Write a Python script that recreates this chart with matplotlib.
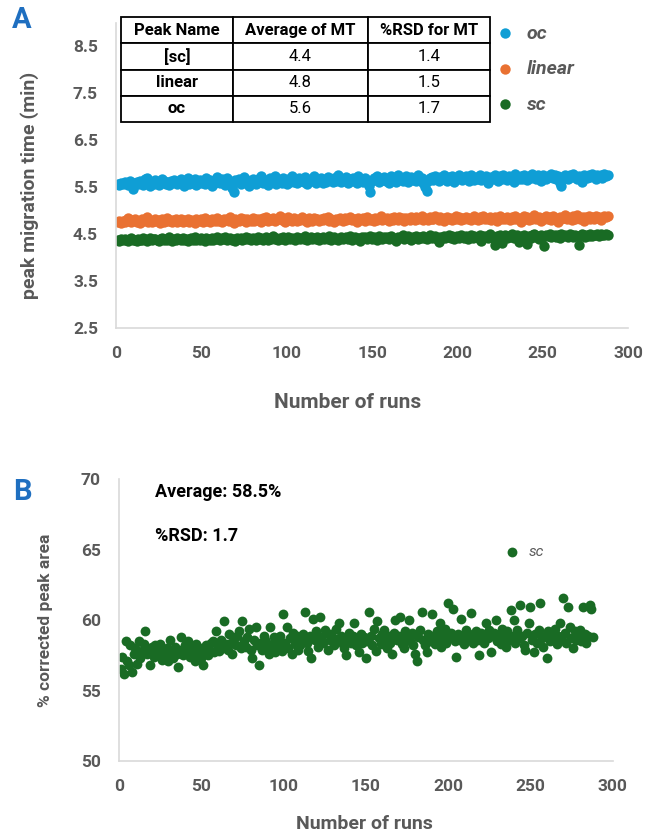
import numpy as np
import matplotlib.pyplot as plt

plt.rcParams['font.family'] = ['Roboto', 'DejaVu Sans']

oc_mt = [
    5.57, 5.55, 5.59, 5.56, 5.60, 5.58, 5.54, 5.62, 5.57, 5.46, 5.58, 5.61,
    5.56, 5.63, 5.59, 5.55, 5.66, 5.70, 5.58, 5.52, 5.60, 5.57, 5.64, 5.61,
    5.55, 5.59, 5.68, 5.62, 5.57, 5.60, 5.54, 5.63, 5.58, 5.65, 5.61, 5.56,
    5.59, 5.66, 5.62, 5.52, 5.60, 5.70, 5.57, 5.63, 5.59, 5.67, 5.55, 5.61,
    5.64, 5.58, 5.62, 5.56, 5.69, 5.60, 5.65, 5.53, 5.61, 5.58, 5.72, 5.63,
    5.59, 5.66, 5.61, 5.55, 5.70, 5.62, 5.58, 5.48, 5.40, 5.64, 5.60, 5.67,
    5.56, 5.62, 5.71, 5.59, 5.65, 5.52, 5.63, 5.68, 5.60, 5.57, 5.66, 5.62,
    5.73, 5.58, 5.64, 5.61, 5.55, 5.69, 5.63, 5.60, 5.74, 5.57, 5.66, 5.62,
    5.59, 5.70, 5.64, 5.56, 5.67, 5.61, 5.73, 5.60, 5.65, 5.58, 5.69, 5.63,
    5.66, 5.60, 5.71, 5.57, 5.64, 5.68, 5.62, 5.74, 5.59, 5.66, 5.63, 5.70,
    5.58, 5.65, 5.61, 5.72, 5.64, 5.67, 5.60, 5.69, 5.63, 5.75, 5.66, 5.61,
    5.68, 5.64, 5.71, 5.59, 5.66, 5.62, 5.70, 5.65, 5.58, 5.73, 5.63, 5.67,
    5.61, 5.69, 5.64, 5.52, 5.39, 5.62, 5.70, 5.66, 5.74, 5.60, 5.68, 5.64,
    5.71, 5.62, 5.67, 5.59, 5.73, 5.65, 5.69, 5.61, 5.75, 5.66, 5.70, 5.63,
    5.68, 5.74, 5.60, 5.66, 5.71, 5.64, 5.69, 5.62, 5.76, 5.67, 5.70, 5.58,
    5.51, 5.42, 5.63, 5.69, 5.72, 5.65, 5.74, 5.68, 5.62, 5.71, 5.66, 5.75,
    5.69, 5.63, 5.72, 5.67, 5.74, 5.60, 5.70, 5.66, 5.76, 5.71, 5.64, 5.69,
    5.73, 5.67, 5.62, 5.75, 5.70, 5.65, 5.72, 5.68, 5.76, 5.64, 5.71, 5.69,
    5.74, 5.58, 5.67, 5.72, 5.66, 5.75, 5.70, 5.63, 5.73, 5.68, 5.76, 5.71,
    5.65, 5.74, 5.69, 5.72, 5.60, 5.77, 5.70, 5.66, 5.73, 5.68, 5.75, 5.71,
    5.64, 5.74, 5.69, 5.77, 5.72, 5.67, 5.75, 5.70, 5.62, 5.76, 5.71, 5.68,
    5.74, 5.72, 5.77, 5.69, 5.75, 5.66, 5.73, 5.58, 5.52, 5.70, 5.76, 5.72,
    5.68, 5.75, 5.71, 5.77, 5.73, 5.66, 5.74, 5.70, 5.60, 5.76, 5.72, 5.69,
    5.75, 5.71, 5.77, 5.73, 5.68, 5.76, 5.72, 5.75, 5.70, 5.77, 5.74, 5.75,
]

linear_mt = [
    4.75, 4.77, 4.74, 4.78, 4.76, 4.80, 4.85, 4.77, 4.75, 4.79, 4.82, 4.76,
    4.78, 4.74, 4.81, 4.77, 4.79, 4.86, 4.76, 4.80, 4.75, 4.78, 4.83, 4.77,
    4.79, 4.74, 4.81, 4.76, 4.78, 4.84, 4.77, 4.80, 4.75, 4.79, 4.82, 4.76,
    4.78, 4.81, 4.75, 4.79, 4.77, 4.83, 4.76, 4.80, 4.78, 4.74, 4.82, 4.79,
    4.77, 4.81, 4.76, 4.84, 4.78, 4.80, 4.75, 4.82, 4.79, 4.77, 4.85, 4.78,
    4.80, 4.76, 4.83, 4.79, 4.81, 4.77, 4.86, 4.78, 4.74, 4.82, 4.80, 4.77,
    4.84, 4.79, 4.81, 4.76, 4.83, 4.80, 4.78, 4.85, 4.77, 4.82, 4.79, 4.81,
    4.76, 4.84, 4.80, 4.87, 4.78, 4.82, 4.79, 4.85, 4.77, 4.83, 4.81, 4.88,
    4.79, 4.84, 4.76, 4.82, 4.86, 4.80, 4.78, 4.85, 4.81, 4.77, 4.83, 4.80,
    4.86, 4.79, 4.82, 4.76, 4.84, 4.80, 4.78, 4.85, 4.81, 4.83, 4.77, 4.82,
    4.79, 4.84, 4.81, 4.86, 4.78, 4.82, 4.80, 4.75, 4.83, 4.79, 4.85, 4.81,
    4.77, 4.84, 4.80, 4.82, 4.87, 4.79, 4.83, 4.81, 4.76, 4.85, 4.80, 4.82,
    4.84, 4.78, 4.86, 4.81, 4.79, 4.83, 4.77, 4.85, 4.80, 4.82, 4.88, 4.79,
    4.83, 4.81, 4.85, 4.78, 4.84, 4.80, 4.86, 4.82, 4.79, 4.87, 4.81, 4.84,
    4.78, 4.85, 4.82, 4.80, 4.87, 4.83, 4.79, 4.86, 4.81, 4.84, 4.88, 4.80,
    4.85, 4.82, 4.79, 4.87, 4.83, 4.81, 4.89, 4.84, 4.80, 4.86, 4.82, 4.78,
    4.84, 4.87, 4.81, 4.85, 4.79, 4.83, 4.88, 4.82, 4.86, 4.80, 4.84, 4.81,
    4.87, 4.83, 4.85, 4.79, 4.84, 4.88, 4.82, 4.80, 4.86, 4.83, 4.89, 4.81,
    4.85, 4.82, 4.87, 4.80, 4.84, 4.86, 4.78, 4.83, 4.88, 4.81, 4.85, 4.82,
    4.87, 4.84, 4.80, 4.86, 4.83, 4.89, 4.81, 4.85, 4.76, 4.84, 4.88, 4.82,
    4.86, 4.79, 4.85, 4.83, 4.90, 4.81, 4.84, 4.87, 4.78, 4.85, 4.82, 4.88,
    4.83, 4.86, 4.80, 4.89, 4.84, 4.82, 4.75, 4.87, 4.83, 4.85, 4.90, 4.81,
    4.86, 4.84, 4.79, 4.88, 4.83, 4.91, 4.85, 4.82, 4.87, 4.78, 4.86, 4.84,
    4.89, 4.83, 4.86, 4.81, 4.88, 4.84, 4.87, 4.80, 4.85, 4.89, 4.86, 4.88,
]

sc_mt = [
    4.38, 4.36, 4.39, 4.37, 4.40, 4.38, 4.35, 4.39, 4.41, 4.37, 4.38, 4.36,
    4.40, 4.38, 4.37, 4.41, 4.39, 4.36, 4.38, 4.42, 4.37, 4.39, 4.40, 4.38,
    4.36, 4.39, 4.41, 4.37, 4.40, 4.38, 4.43, 4.39, 4.36, 4.40, 4.38, 4.41,
    4.39, 4.37, 4.42, 4.38, 4.40, 4.36, 4.39, 4.41, 4.38, 4.43, 4.37, 4.40,
    4.38, 4.41, 4.39, 4.36, 4.42, 4.40, 4.38, 4.41, 4.37, 4.39, 4.43, 4.40,
    4.38, 4.41, 4.39, 4.44, 4.37, 4.40, 4.42, 4.38, 4.40, 4.36, 4.41, 4.39,
    4.42, 4.38, 4.40, 4.44, 4.39, 4.41, 4.37, 4.42, 4.40, 4.38, 4.43, 4.39,
    4.41, 4.37, 4.40, 4.43, 4.38, 4.42, 4.40, 4.45, 4.39, 4.41, 4.37, 4.42,
    4.40, 4.44, 4.38, 4.41, 4.43, 4.39, 4.42, 4.40, 4.37, 4.44, 4.41, 4.39,
    4.42, 4.40, 4.45, 4.38, 4.41, 4.43, 4.39, 4.42, 4.40, 4.44, 4.38, 4.41,
    4.43, 4.39, 4.42, 4.40, 4.45, 4.38, 4.41, 4.43, 4.40, 4.37, 4.42, 4.44,
    4.39, 4.41, 4.43, 4.40, 4.46, 4.38, 4.42, 4.44, 4.40, 4.41, 4.36, 4.43,
    4.41, 4.44, 4.39, 4.42, 4.46, 4.40, 4.43, 4.41, 4.38, 4.45, 4.42, 4.40,
    4.44, 4.41, 4.43, 4.39, 4.46, 4.42, 4.40, 4.35, 4.44, 4.41, 4.43, 4.47,
    4.40, 4.42, 4.45, 4.41, 4.38, 4.44, 4.42, 4.46, 4.40, 4.43, 4.41, 4.45,
    4.42, 4.39, 4.44, 4.47, 4.41, 4.43, 4.45, 4.40, 4.33, 4.44, 4.42, 4.46,
    4.41, 4.44, 4.48, 4.42, 4.45, 4.40, 4.43, 4.46, 4.41, 4.47, 4.44, 4.42,
    4.45, 4.39, 4.43, 4.48, 4.42, 4.46, 4.44, 4.41, 4.47, 4.36, 4.45, 4.43,
    4.46, 4.42, 4.49, 4.44, 4.41, 4.26, 4.45, 4.43, 4.47, 4.30, 4.44, 4.48,
    4.42, 4.46, 4.44, 4.49, 4.41, 4.45, 4.47, 4.34, 4.43, 4.46, 4.48, 4.44,
    4.28, 4.45, 4.42, 4.47, 4.49, 4.44, 4.46, 4.40, 4.48, 4.43, 4.25, 4.47,
    4.45, 4.49, 4.43, 4.46, 4.48, 4.44, 4.47, 4.42, 4.50, 4.45, 4.48, 4.46,
    4.44, 4.49, 4.47, 4.43, 4.48, 4.46, 4.27, 4.45, 4.50, 4.47, 4.44, 4.48,
    4.46, 4.49, 4.45, 4.48, 4.47, 4.50, 4.46, 4.49, 4.48, 4.47, 4.50, 4.48,
]

# aire de pic corrigée (%) du sc, figure B
sc_area = [
    56.5, 57.4, 56.2, 58.5, 57.1, 56.8, 58.2, 56.3, 57.6, 58.0, 56.9, 58.5,
    57.3, 57.8, 58.3, 59.2, 57.6, 57.9, 56.8, 58.1, 57.4, 58.2, 57.7, 57.6,
    58.3, 57.2, 57.9, 57.5, 58.0, 57.1, 58.6, 57.8, 57.3, 58.1, 57.6, 56.7,
    57.9, 58.8, 57.5, 58.2, 57.7, 58.5, 57.4, 58.0, 57.8, 57.1, 58.3, 57.6,
    58.0, 57.3, 56.8, 57.9, 58.2, 57.5, 57.9, 58.4, 58.5, 57.7, 59.2, 58.1,
    57.8, 58.6, 58.0, 59.9, 58.3, 57.9, 59.0, 58.4, 57.6, 58.7, 58.2, 58.9,
    59.2, 58.0, 59.9, 58.5, 58.1, 58.8, 59.4, 57.9, 57.3, 58.6, 59.5, 58.2,
    56.8, 58.4, 57.9, 58.9, 58.6, 58.0, 57.6, 59.5, 58.3, 58.8, 57.7, 58.5,
    58.1, 58.9, 57.8, 60.4, 58.4, 59.5, 58.0, 58.7, 57.6, 59.1, 58.3, 58.9,
    57.9, 58.2, 58.6, 59.0, 60.6, 58.4, 57.8, 58.9, 57.3, 60.1, 58.6, 59.2,
    58.1, 60.2, 58.8, 58.4, 59.3, 59.1, 57.9, 58.6, 59.0, 58.7, 58.2, 59.4,
    58.5, 59.8, 58.9, 58.3, 58.0, 57.5, 58.8, 59.1, 58.4, 58.9, 59.8, 58.2,
    58.6, 57.7, 59.0, 58.4, 58.8, 57.3, 58.5, 60.6, 58.9, 58.2, 59.4, 57.8,
    59.9, 58.7, 58.3, 59.0, 59.3, 58.5, 58.0, 58.9, 58.4, 57.6, 59.1, 60.0,
    58.6, 58.9, 60.2, 58.3, 58.0, 59.2, 58.7, 60.0, 58.5, 59.1, 58.2, 57.6,
    57.1, 58.8, 59.3, 60.6, 58.6, 58.2, 57.7, 59.0, 58.5, 60.4, 58.9, 58.3,
    59.2, 58.6, 59.8, 58.1, 58.9, 59.4, 58.4, 61.2, 58.8, 59.1, 60.8, 58.5,
    57.4, 59.0, 58.6, 60.1, 58.9, 58.3, 59.3, 58.7, 59.0, 60.5, 58.4, 58.8,
    59.2, 58.6, 57.5, 59.1, 58.9, 58.4, 59.8, 58.7, 59.3, 57.7, 58.9, 59.1,
    60.0, 58.5, 59.0, 58.3, 59.4, 58.8, 58.1, 59.2, 58.6, 60.7, 58.9, 60.0,
    58.4, 59.3, 58.7, 61.1, 58.9, 58.2, 57.9, 59.1, 59.8, 60.9, 58.6, 57.7,
    59.0, 58.4, 59.3, 61.2, 58.7, 58.1, 58.9, 57.3, 59.2, 58.5, 59.0, 58.8,
    59.4, 58.3, 58.9, 59.8, 58.6, 61.6, 59.1, 58.4, 60.9, 59.5, 58.7, 58.0,
    59.2, 58.6, 58.9, 59.3, 58.5, 60.9, 59.0, 58.4, 58.9, 61.1, 60.8, 58.8,
]

runs = np.arange(1, len(sc_area) + 1)

table_cols = ['Peak Name', 'Average of MT', '%RSD for MT']
table_names = ['[sc]', 'linear', 'oc']
table_avg = ['4.4', '4.8', '5.6']
table_rsd = ['1.4', '1.5', '1.7']

GRIS = '#595959'
BLEU, ORANGE, VERT = '#0F9ED5', '#E97132', '#196B24'


def mise_en_forme(ax):
    for s in ['top', 'right']:
        ax.spines[s].set_visible(False)
    for s in ['left', 'bottom']:
        ax.spines[s].set_color('#D9D9D9')
        ax.spines[s].set_linewidth(1.2)
    ax.tick_params(length=0, labelsize=12.5, labelcolor=GRIS, pad=13)
    for lab in ax.get_xticklabels() + ax.get_yticklabels():
        lab.set_fontweight('bold')


fig = plt.figure(figsize=(6.5, 8.34), dpi=100)

# ---- panneau A
axA = fig.add_axes([0.1785, 0.6067, 0.7877, 0.3663])
axA.scatter(runs, oc_mt, s=56, color=BLEU, linewidths=0, label='oc')
axA.scatter(runs, linear_mt, s=56, color=ORANGE, linewidths=0, label='linear')
axA.scatter(runs, sc_mt, s=56, color=VERT, linewidths=0, label='sc')
axA.set_xlim(0, 300)
axA.set_ylim(2.5, 9.0)
axA.set_xticks(range(0, 301, 50))
axA.set_yticks(np.arange(2.5, 8.6, 1.0))
axA.yaxis.set_major_formatter(plt.FormatStrFormatter('%.1f'))
mise_en_forme(axA)
axA.set_xlabel('Number of runs', fontsize=15, fontweight='bold', color=GRIS)
axA.xaxis.set_label_coords(0.453, -0.213)
axA.set_ylabel('peak migration time (min)', fontsize=14, fontweight='bold', color=GRIS)
axA.yaxis.set_label_coords(-0.15, 0.468)

axA.legend(loc='upper left', bbox_to_anchor=(0.703, 1.025), frameon=False,
           prop={'size': 14, 'style': 'italic', 'weight': 'bold'},
           labelcolor=GRIS, handletextpad=0.1, labelspacing=0.9,
           scatterpoints=1, borderpad=0)

rows = [[n, a, r] for n, a, r in zip(table_names, table_avg, table_rsd)]
tab = axA.table(cellText=rows, colLabels=table_cols, cellLoc='center',
                colWidths=[112, 135, 122], bbox=[0.0098, 0.674, 0.7207, 0.344])
tab.auto_set_font_size(False)
for (i, j), cell in tab.get_celld().items():
    cell.set_edgecolor('black')
    cell.set_linewidth(1.3)
    cell.set_text_props(fontsize=12, color='black',
                        fontweight='bold' if (i == 0 or j == 0) else 'normal')

fig.text(22 / 650, 1 - 20 / 834, 'A', fontsize=21, fontweight='bold',
         color='#1F6FC0', ha='center', va='center')

# ---- panneau B
axB = fig.add_axes([0.183, 0.0875, 0.7594, 0.338])
axB.scatter(runs, sc_area, s=50, color=VERT, linewidths=0, label='sc')
axB.set_xlim(0, 300)
axB.set_ylim(50, 70)
axB.set_xticks(range(0, 301, 50))
axB.set_yticks(range(50, 71, 5))
mise_en_forme(axB)
axB.set_xlabel('Number of runs', fontsize=14, color=GRIS, fontweight='bold')
axB.xaxis.set_label_coords(0.498, -0.19)
axB.set_ylabel('% corrected peak area', fontsize=12.5, color=GRIS, fontweight='bold')
axB.yaxis.set_label_coords(-0.134, 0.5)

axB.text(0.073, 0.954, 'Average: 58.5%', transform=axB.transAxes,
         fontsize=13, fontweight='bold', va='center')
axB.text(0.073, 0.80, '%RSD: 1.7', transform=axB.transAxes,
         fontsize=13, fontweight='bold', va='center')
axB.legend(loc='center left', bbox_to_anchor=(0.75, 0.741), frameon=False,
           prop={'size': 11, 'style': 'italic'}, labelcolor=GRIS,
           handletextpad=0.1, scatterpoints=1, borderpad=0)

fig.text(22 / 650, 1 - 492 / 834, 'B', fontsize=21, fontweight='bold',
         color='#1F6FC0', ha='center', va='center')

fig.savefig('out.png', dpi=100)
plt.close(fig)
